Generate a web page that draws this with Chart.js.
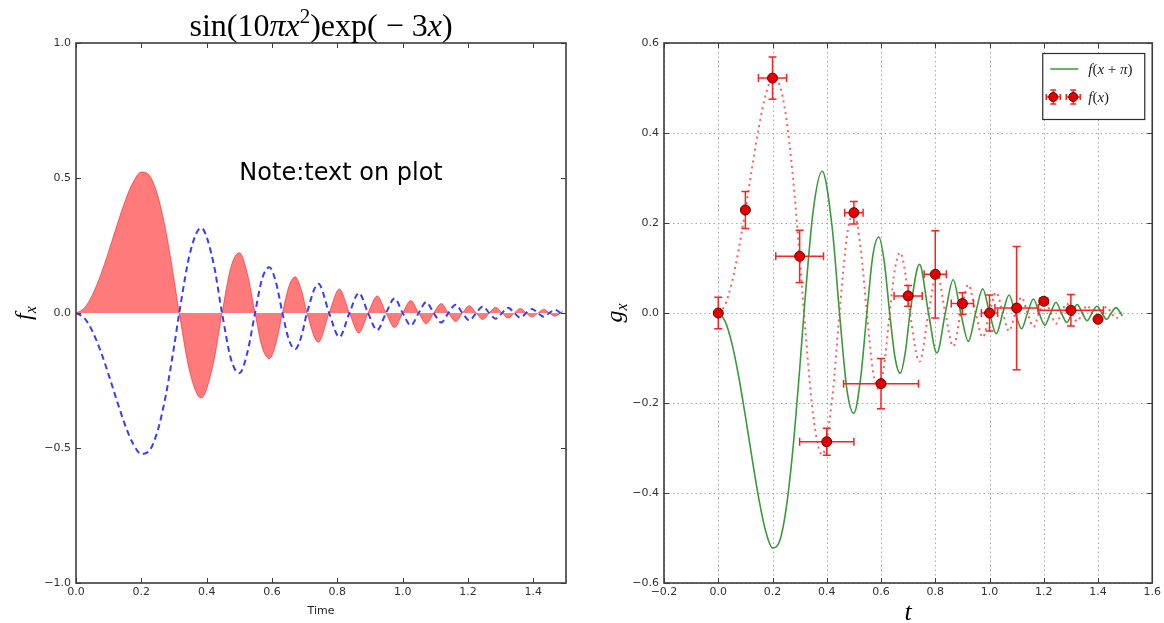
<!DOCTYPE html>
<html>
<head>
<meta charset="utf-8">
<script src="https://cdn.jsdelivr.net/npm/chart.js@4.4.0/dist/chart.umd.min.js"></script>
<style>
	html, body { margin: 0; padding: 0; background: #fff; }
	body { width: 1164px; height: 623px; position: relative; overflow: hidden; }
	.box { position: absolute; top: 0; height: 623px; }
	#leftBox { left: 0; width: 600px; }
	#rightBox { left: 600px; width: 564px; }
</style>
</head>
<body>
<div class="box" id="leftBox"><canvas id="leftChart"></canvas></div>
<div class="box" id="rightBox"><canvas id="rightChart"></canvas></div>
<script>
// curve samples (zeros and extrema of the damped chirp)
const xs = [0, 0.025, 0.05, 0.075, 0.1, 0.125, 0.15, 0.175, 0.2, 0.225, 0.25, 0.275, 0.3, 0.316,
	0.35, 0.383, 0.42, 0.447, 0.475, 0.5, 0.525, 0.548, 0.57, 0.592, 0.612, 0.632,
	0.652, 0.671, 0.69, 0.707, 0.742, 0.775, 0.806, 0.837, 0.866, 0.894, 0.922, 0.949,
	0.975, 1.0, 1.025, 1.049, 1.072, 1.095, 1.118, 1.14, 1.162, 1.183, 1.204, 1.225,
	1.245, 1.265, 1.285, 1.304, 1.323, 1.342, 1.36, 1.378, 1.396, 1.414, 1.432, 1.449,
	1.466, 1.483, 1.49];
const fVals = [0, 0.018, 0.067, 0.14, 0.229, 0.324, 0.414, 0.485, 0.522, 0.509, 0.436, 0.304, 0.126, 0,
	-0.227, -0.315, -0.19, 0, 0.173, 0.223, 0.144, 0, -0.128, -0.169, -0.114, 0,
	0.1, 0.134, 0.086, 0, -0.108, 0, 0.089, 0, -0.074, 0, 0.063, 0,
	-0.054, 0, 0.046, 0, -0.04, 0, 0.035, 0, -0.031, 0, 0.027, 0,
	-0.024, 0, 0.021, 0, -0.019, 0, 0.017, 0, -0.015, 0, 0.014, 0,
	-0.012, 0, 0.007];
const negVals = [0, -0.018, -0.067, -0.14, -0.229, -0.324, -0.414, -0.485, -0.522, -0.509, -0.436, -0.304, -0.126, 0,
	0.227, 0.315, 0.19, 0, -0.173, -0.223, -0.144, 0, 0.128, 0.169, 0.114, 0,
	-0.1, -0.134, -0.086, 0, 0.108, 0, -0.089, 0, 0.074, 0, -0.063, 0,
	0.054, 0, -0.046, 0, 0.04, 0, -0.035, 0, 0.031, 0, -0.027, 0,
	0.024, 0, -0.021, 0, 0.019, 0, -0.017, 0, 0.015, 0, -0.014, 0,
	0.012, 0, -0.007];

// error bar points (right plot)
const ptX = [0, 0.1, 0.2, 0.3, 0.4, 0.5, 0.6, 0.7, 0.8, 0.9, 1.0, 1.1, 1.2, 1.3, 1.4];
const ptY = [0, 0.229, 0.522, 0.126, -0.286, 0.223, -0.157, 0.038, 0.086, 0.021, 0, 0.011, 0.026, 0.006, -0.014];
const ptXerr = [0.005, 0.01, 0.052, 0.088, 0.1, 0.034, 0.138, 0.052, 0.041, 0.041, 0.03, 0.08, 0.015, 0.12, 0.008];
const ptYerr = [0.035, 0.041, 0.047, 0.058, 0.03, 0.025, 0.056, 0.023, 0.097, 0.024, 0.04, 0.137, 0.006, 0.035, 0.005];

// ticks
const leftXTicks = [0, 0.2, 0.4, 0.6, 0.8, 1.0, 1.2, 1.4];
const leftYTicks = [-1, -0.5, 0, 0.5, 1];
const rightXTicks = [-0.2, 0, 0.2, 0.4, 0.6, 0.8, 1.0, 1.2, 1.4, 1.6];
const rightYTicks = [-0.6, -0.4, -0.2, 0, 0.2, 0.4, 0.6];

const noteX = 0.5;
const noteY = 0.5;

const serif = '"Liberation Serif", "DejaVu Serif", serif';
const R = (s) => `${s}px ${serif}`;
const I = (s) => `italic ${s}px ${serif}`;

const fmt = (v) => {
	const s = (Math.abs(v) < 1e-9 ? 0 : v).toFixed(1);
	return s.replace('-', '\u2212');
};

const points = (xv, yv) => xv.map((x, i) => ({ x: x, y: yv[i] }));

// draw text made of parts with different fonts, [text, font, dy]
const drawRich = (ctx, parts, x, y, align) => {
	let w = 0;
	parts.forEach((p) => { ctx.font = p[1]; w += ctx.measureText(p[0]).width; });
	let cx = align === 'center' ? x - w / 2 : x;
	ctx.textAlign = 'left';
	ctx.textBaseline = 'alphabetic';
	parts.forEach((p) => {
		ctx.font = p[1];
		ctx.fillText(p[0], cx, y + (p[2] || 0));
		cx += ctx.measureText(p[0]).width;
	});
};

const framePlugin = {
	id: 'frame',
	beforeDatasetsDraw(chart, args, opts) {
		if (!opts.grid) return;
		const { ctx, chartArea: a, scales: { x, y } } = chart;
		ctx.save();
		ctx.strokeStyle = '#a8a8a8';
		ctx.lineWidth = 1;
		ctx.setLineDash([1.5, 3]);
		ctx.beginPath();
		x.ticks.forEach((t) => {
			const px = Math.round(x.getPixelForValue(t.value)) + 0.5;
			ctx.moveTo(px, a.top);
			ctx.lineTo(px, a.bottom);
		});
		y.ticks.forEach((t) => {
			const py = Math.round(y.getPixelForValue(t.value)) + 0.5;
			ctx.moveTo(a.left, py);
			ctx.lineTo(a.right, py);
		});
		ctx.stroke();
		ctx.restore();
	},
	afterDatasetsDraw(chart) {
		const { ctx, chartArea: a, scales: { x, y } } = chart;
		ctx.save();
		ctx.strokeStyle = '#3c3c3c';
		ctx.lineWidth = 1;
		ctx.beginPath();
		x.ticks.forEach((t) => {
			const px = Math.round(x.getPixelForValue(t.value)) + 0.5;
			ctx.moveTo(px, a.bottom);
			ctx.lineTo(px, a.bottom - 5);
			ctx.moveTo(px, a.top);
			ctx.lineTo(px, a.top + 5);
		});
		y.ticks.forEach((t) => {
			const py = Math.round(y.getPixelForValue(t.value)) + 0.5;
			ctx.moveTo(a.left, py);
			ctx.lineTo(a.left + 5, py);
			ctx.moveTo(a.right, py);
			ctx.lineTo(a.right - 5, py);
		});
		ctx.stroke();
		ctx.lineWidth = 1.6;
		ctx.strokeRect(a.left, a.top, a.right - a.left, a.bottom - a.top);
		ctx.restore();
	}
};

const leftText = {
	id: 'leftText',
	afterDraw(chart) {
		const { ctx, chartArea: a, scales: { x, y } } = chart;
		ctx.save();
		ctx.fillStyle = '#000';
		drawRich(ctx, [
			['sin(10', R(32)], ['\u03c0', I(32)], ['x', I(32)], ['2', R(21), -13],
			[')exp(', R(32)], [' \u2212 3', R(32)], ['x', I(32)], [')', R(32)]
		], (a.left + a.right) / 2, 36, 'center');

		ctx.font = '24px "DejaVu Sans"';
		ctx.textAlign = 'left';
		ctx.textBaseline = 'alphabetic';
		ctx.fillText('Note:text on plot', x.getPixelForValue(noteX), y.getPixelForValue(noteY) + 2);

		ctx.fillStyle = '#222';
		ctx.font = '11px "DejaVu Sans"';
		ctx.textAlign = 'center';
		ctx.fillText('Time', (a.left + a.right) / 2, 614);

		ctx.translate(24, (a.top + a.bottom) / 2);
		ctx.rotate(-Math.PI / 2);
		ctx.fillStyle = '#000';
		drawRich(ctx, [['f', I(24)], ['x', I(16), 5]], 0, 7, 'center');
		ctx.restore();
	}
};

const rightText = {
	id: 'rightText',
	afterDraw(chart) {
		const { ctx, chartArea: a } = chart;
		ctx.save();
		ctx.fillStyle = '#000';
		drawRich(ctx, [['t', I(26)]], (a.left + a.right) / 2, 620, 'center');

		ctx.translate(15, (a.top + a.bottom) / 2);
		ctx.rotate(-Math.PI / 2);
		drawRich(ctx, [['g', I(24)], ['x', I(16), 5]], 0, 7, 'center');
		ctx.restore();

		// legend
		ctx.save();
		const bw = 102, bh = 66;
		const bx = a.right - 8 - bw, by = a.top + 10;
		ctx.fillStyle = '#fff';
		ctx.fillRect(bx, by, bw, bh);
		ctx.strokeStyle = '#2b2b2b';
		ctx.lineWidth = 1.2;
		ctx.strokeRect(bx + 0.5, by + 0.5, bw, bh);

		ctx.strokeStyle = '#3a9a3a';
		ctx.lineWidth = 1.5;
		ctx.beginPath();
		ctx.moveTo(bx + 8, by + 16);
		ctx.lineTo(bx + 36, by + 16);
		ctx.stroke();
		ctx.fillStyle = '#222';
		drawRich(ctx, [['f', I(15)], ['(', R(15)], ['x', I(15)], [' + ', R(15)], ['\u03c0', I(15)], [')', R(15)]],
			bx + 46, by + 21, 'left');

		const my = by + 44;
		[bx + 11, bx + 31].forEach((mx) => {
			ctx.strokeStyle = '#ff2020';
			ctx.lineWidth = 1.5;
			ctx.beginPath();
			ctx.moveTo(mx - 7, my); ctx.lineTo(mx + 7, my);
			ctx.moveTo(mx, my - 7); ctx.lineTo(mx, my + 7);
			ctx.moveTo(mx - 3, my - 7); ctx.lineTo(mx + 3, my - 7);
			ctx.moveTo(mx - 3, my + 7); ctx.lineTo(mx + 3, my + 7);
			ctx.moveTo(mx - 7, my - 3); ctx.lineTo(mx - 7, my + 3);
			ctx.moveTo(mx + 7, my - 3); ctx.lineTo(mx + 7, my + 3);
			ctx.stroke();
			ctx.fillStyle = '#e00000';
			ctx.strokeStyle = '#700000';
			ctx.lineWidth = 1;
			ctx.beginPath();
			ctx.arc(mx, my, 4.5, 0, Math.PI * 2);
			ctx.fill();
			ctx.stroke();
		});
		ctx.fillStyle = '#222';
		drawRich(ctx, [['f', I(15)], ['(', R(15)], ['x', I(15)], [')', R(15)]], bx + 46, my + 5, 'left');
		ctx.restore();
	}
};

const errorBars = {
	id: 'errorBars',
	beforeDatasetDraw(chart, args) {
		if (args.index !== 0) return;
		const { ctx, scales: { x, y } } = chart;
		const cap = 4;
		ctx.save();
		ctx.strokeStyle = '#ff2020';
		ctx.lineWidth = 1.5;
		ptX.forEach((vx, i) => {
			const px = x.getPixelForValue(vx);
			const py = y.getPixelForValue(ptY[i]);
			const x0 = x.getPixelForValue(vx - ptXerr[i]);
			const x1 = x.getPixelForValue(vx + ptXerr[i]);
			const y0 = y.getPixelForValue(ptY[i] - ptYerr[i]);
			const y1 = y.getPixelForValue(ptY[i] + ptYerr[i]);
			ctx.beginPath();
			ctx.moveTo(x0, py); ctx.lineTo(x1, py);
			ctx.moveTo(px, y0); ctx.lineTo(px, y1);
			ctx.moveTo(px - cap, y0); ctx.lineTo(px + cap, y0);
			ctx.moveTo(px - cap, y1); ctx.lineTo(px + cap, y1);
			ctx.moveTo(x0, py - cap); ctx.lineTo(x0, py + cap);
			ctx.moveTo(x1, py - cap); ctx.lineTo(x1, py + cap);
			ctx.stroke();
		});
		ctx.restore();
	}
};

const axisOpts = (min, max, tickList, fixed, isY) => ({
	type: 'linear',
	min: min,
	max: max,
	grid: { display: false, drawTicks: false },
	border: { display: false },
	afterBuildTicks: (s) => { s.ticks = tickList.map((v) => ({ value: v })); },
	afterFit: (s) => { if (isY) { s.width = fixed; } else { s.height = fixed; } },
	ticks: {
		autoSkip: false,
		maxRotation: 0,
		padding: isY ? 5 : 3,
		color: '#333',
		font: { family: 'DejaVu Sans', size: 11 },
		callback: (v) => fmt(v)
	}
});

const baseOpts = (padding) => ({
	responsive: true,
	maintainAspectRatio: false,
	animation: false,
	layout: { padding: padding },
	plugins: { legend: { display: false }, tooltip: { enabled: false } },
	elements: { point: { radius: 0 } }
});

const leftOpts = baseOpts({ top: 43, right: 34, bottom: 0, left: 0 });
leftOpts.scales = {
	x: axisOpts(0, 1.5, leftXTicks, 40, false),
	y: axisOpts(-1, 1, leftYTicks, 76, true)
};
leftOpts.plugins.frame = { grid: false };

new Chart(document.getElementById('leftChart'), {
	type: 'line',
	data: {
		datasets: [
			{
				data: points(xs, negVals),
				borderColor: '#3b3bff',
				borderWidth: 2,
				borderDash: [6, 4],
				fill: false,
				cubicInterpolationMode: 'monotone',
				order: 0
			},
			{
				data: points(xs, fVals),
				borderColor: 'rgba(255, 0, 0, 0.5)',
				borderWidth: 1,
				backgroundColor: 'rgba(255, 0, 0, 0.52)',
				fill: 'origin',
				cubicInterpolationMode: 'monotone',
				order: 1
			}
		]
	},
	options: leftOpts,
	plugins: [framePlugin, leftText]
});

const rightOpts = baseOpts({ top: 43, right: 9, bottom: 0, left: 0 });
rightOpts.scales = {
	x: axisOpts(-0.2, 1.6, rightXTicks, 40, false),
	y: axisOpts(-0.6, 0.6, rightYTicks, 64, true)
};
rightOpts.plugins.frame = { grid: true };

new Chart(document.getElementById('rightChart'), {
	type: 'line',
	data: {
		datasets: [
			{
				data: points(ptX, ptY),
				showLine: false,
				pointRadius: 5,
				pointBackgroundColor: '#e00000',
				pointBorderColor: '#700000',
				pointBorderWidth: 1,
				order: 0
			},
			{
				data: points(xs, negVals),
				borderColor: '#3a9a3a',
				borderWidth: 1.6,
				fill: false,
				cubicInterpolationMode: 'monotone',
				order: 1
			},
			{
				data: points(xs, fVals),
				borderColor: 'rgba(255, 40, 40, 0.75)',
				borderWidth: 2,
				borderDash: [2, 4],
				fill: false,
				cubicInterpolationMode: 'monotone',
				order: 2
			}
		]
	},
	options: rightOpts,
	plugins: [framePlugin, errorBars, rightText]
});
</script>
</body>
</html>
